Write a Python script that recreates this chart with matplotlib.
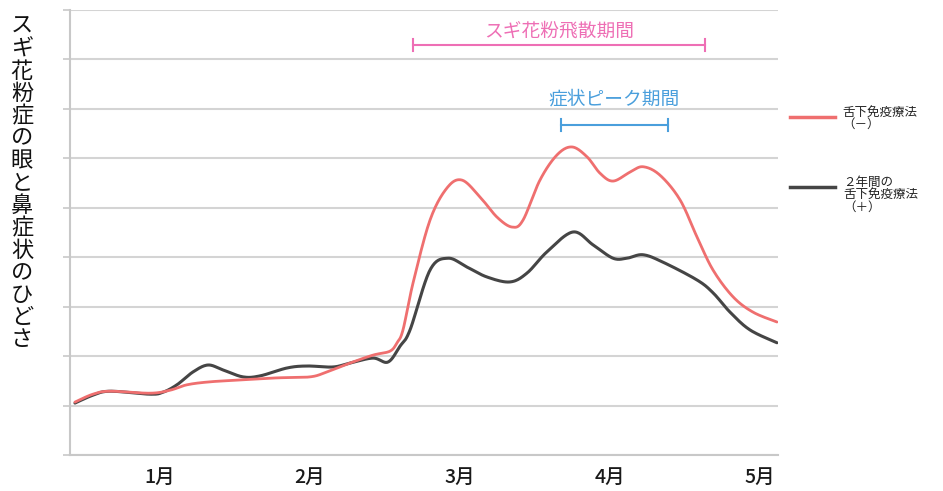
import numpy as np
import matplotlib
matplotlib.use("Agg")
import matplotlib.pyplot as plt

plt.rcParams['font.family'] = ['Noto Sans CJK JP', 'DejaVu Sans']

# x in month units (1 = 1月), y in grid units (0..9)
red_x = [0.433, 0.553, 0.667, 0.933, 1.067, 1.18, 1.333, 1.553, 1.78, 2.0, 2.113, 2.267,
         2.42, 2.533, 2.58, 2.62, 2.687, 2.8, 2.913, 3.013, 3.133, 3.247, 3.347, 3.42,
         3.533, 3.647, 3.747, 3.847, 3.933, 4.02, 4.133, 4.22, 4.333, 4.467, 4.58, 4.687,
         4.82, 4.953, 5.113]
red_y = [1.07, 1.23, 1.29, 1.25, 1.31, 1.42, 1.48, 1.52, 1.56, 1.58, 1.68, 1.86,
         2.02, 2.10, 2.27, 2.53, 3.48, 4.75, 5.40, 5.56, 5.22, 4.81, 4.61, 4.75,
         5.56, 6.07, 6.23, 6.03, 5.70, 5.54, 5.72, 5.83, 5.66, 5.16, 4.41, 3.74,
         3.20, 2.89, 2.69]

black_x = [0.433, 0.553, 0.667, 0.933, 1.02, 1.113, 1.22, 1.32, 1.42, 1.553, 1.667, 1.847,
           1.98, 2.153, 2.267, 2.42, 2.52, 2.6, 2.667, 2.8, 2.92, 3.047, 3.18, 3.333,
           3.447, 3.58, 3.753, 3.887, 4.02, 4.113, 4.22, 4.353, 4.58, 4.687, 4.8, 4.933,
           5.113]
black_y = [1.05, 1.21, 1.29, 1.23, 1.27, 1.42, 1.68, 1.82, 1.72, 1.58, 1.60, 1.76,
           1.80, 1.78, 1.86, 1.96, 1.88, 2.20, 2.53, 3.74, 3.98, 3.80, 3.60, 3.50,
           3.68, 4.11, 4.51, 4.25, 3.98, 3.98, 4.05, 3.90, 3.54, 3.28, 2.89, 2.53,
           2.27]

month_pos = [1, 2, 3, 4, 5]
month_labels = ["1月", "2月", "3月", "4月", "5月"]

pollen_range = (2.687, 4.633)
peak_range = (3.673, 4.387)

ylabel = "スギ花粉症の眼と鼻症状のひどさ"
legend_red = "舌下免疫療法\n（－）"
legend_black = "２年間の\n舌下免疫療法\n（＋）"


def catmull_rom(xs, ys, n=20):
    p = np.column_stack([xs, ys]).astype(float)
    p = np.vstack([p[0], p, p[-1]])
    out = []
    t = np.linspace(0, 1, n, endpoint=False)[:, None]
    for i in range(1, len(p) - 2):
        p0, p1, p2, p3 = p[i - 1], p[i], p[i + 1], p[i + 2]
        seg = 0.5 * ((2 * p1) + (-p0 + p2) * t + (2 * p0 - 5 * p1 + 4 * p2 - p3) * t ** 2
                     + (-p0 + 3 * p1 - 3 * p2 + p3) * t ** 3)
        out.append(seg)
    out.append(p[-2][None, :])
    out = np.vstack(out)
    return out[:, 0], out[:, 1]


fig = plt.figure(figsize=(9.43, 4.91), dpi=100)
ax = fig.add_axes([70 / 943, 36 / 491, 708 / 943, 445 / 491])
ax.set_xlim(0.4, 5.12)
ax.set_ylim(0, 9)

ax.set_yticks(range(0, 10))
ax.set_yticklabels([])
ax.grid(axis='y', color='#d4d4d4', lw=1.5)
ax.set_axisbelow(True)
ax.set_xticks(month_pos)
ax.set_xticklabels(month_labels, fontsize=14, fontweight='medium')
ax.tick_params(axis='x', length=0, pad=9, colors='#1a1a1a')
ax.tick_params(axis='y', length=5, color='#c8c8c8', width=1.2)
for s in ['top', 'right']:
    ax.spines[s].set_visible(False)
for s in ['left', 'bottom']:
    ax.spines[s].set_color('#c8c8c8')
    ax.spines[s].set_linewidth(1.5)

rx, ry = catmull_rom(red_x, red_y)
bx, by = catmull_rom(black_x, black_y)
ax.plot(bx, by, color='#454545', lw=2.2, solid_capstyle='round')
ax.plot(rx, ry, color='#ef6f6f', lw=2.0, solid_capstyle='round')

pink = '#ee6fb5'
blue = '#4a9fdc'
py = 8.29
ax.plot(pollen_range, [py, py], color=pink, lw=1.5)
for xv in pollen_range:
    ax.plot([xv, xv], [py - 0.12, py + 0.12], color=pink, lw=1.5)
ax.text(sum(pollen_range) / 2, py + 0.08, "スギ花粉飛散期間", color=pink,
        fontsize=13.5, ha='center', va='bottom')

by_ = 6.68
ax.plot(peak_range, [by_, by_], color=blue, lw=1.5)
for xv in peak_range:
    ax.plot([xv, xv], [by_ - 0.12, by_ + 0.12], color=blue, lw=1.5)
ax.text(sum(peak_range) / 2, by_ + 0.30, "症状ピーク期間", color=blue,
        fontsize=13.5, ha='center', va='bottom')

# y label, vertical stacked
fig.text(22 / 943, 1 - 183 / 491, "\n".join(ylabel), fontsize=16, ha='center',
         va='center', linespacing=0.965, color='#111111')

# legend
fig.add_artist(plt.Line2D([790 / 943, 835 / 943], [1 - 117 / 491] * 2,
                          color='#ef6f6f', lw=2.5, transform=fig.transFigure))
fig.add_artist(plt.Line2D([790 / 943, 835 / 943], [1 - 187 / 491] * 2,
                          color='#454545', lw=2.5, transform=fig.transFigure))
fig.text(842 / 943, 1 - 106 / 491, legend_red, fontsize=9, va='top', ha='left',
         linespacing=0.92, color='#222222')
fig.text(843 / 943, 1 - 176 / 491, legend_black, fontsize=9, va='top', ha='left',
         linespacing=0.92, color='#222222')

fig.savefig("out.png", dpi=100, facecolor='white')
